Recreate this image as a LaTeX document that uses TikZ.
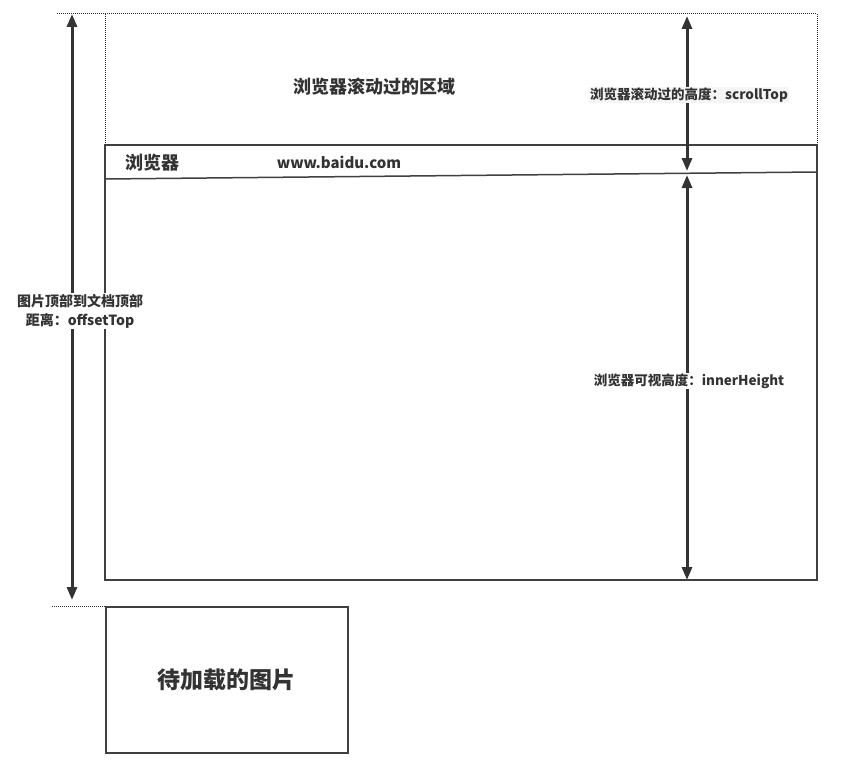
\documentclass[tikz,border=0pt]{standalone}
\usepackage{fontspec}
\setmainfont{Noto Sans CJK SC}
\usetikzlibrary{arrows.meta}
\begin{document}
\begin{tikzpicture}[x=1pt,y=-1pt,
  dot/.style={densely dotted,line width=1pt,draw=black!80},
  box/.style={draw=black!75,line width=1.5pt},
  dim/.style={line width=3pt,draw=black!80,{Triangle[length=13pt,width=10pt]}-{Triangle[length=13pt,width=10pt]}},
  lbl/.style={font=\bfseries\fontsize{13.5}{16}\selectfont,text=black!80,fill=white,inner sep=1pt},
  big/.style={font=\bfseries\fontsize{18}{20}\selectfont,text=black!80}]
\path[use as bounding box,fill=white] (0,0) rectangle (850,760);
\coordinate (tl) at (57,14); \coordinate (tr) at (817,14);
\draw[dot] (tl) -- (tr);
\draw[dot] (105,14) -- (105,145);
\draw[dot] (tr) -- (817,145);
\draw[box] (105,145) rectangle (817,580);
\coordinate (hl) at (105,179); \coordinate (hr) at (817,172);
\draw[box] (hl) -- (hr);
\coordinate (bl) at (52,606); \coordinate (br) at (105,606);
\draw[dot] (bl) -- (br);
\node[box,minimum width=242pt,minimum height=146pt,anchor=north west,inner sep=0pt] (img) at (105,606) {};
\node[font=\bfseries\fontsize{23}{26}\selectfont,text=black!80] at (img.center) {待加载的图片};
\node[big] (scroll) at (374,87) {浏览器滚动过的区域};
\node[big] (br1) at (152,163) {浏览器};
\node[font=\bfseries\fontsize{15}{17}\selectfont,text=black!80] (url) at (339,162) {www.baidu.com};
\coordinate (a1) at (72,14); \coordinate (a2) at (72,600);
\draw[dim] (a1) -- (a2);
\coordinate (s1) at (687,16); \coordinate (s2) at (687,171);
\draw[dim] (s1) -- (s2);
\coordinate (h1) at (687,175); \coordinate (h2) at (687,580);
\draw[dim] (h1) -- (h2);
\node[lbl,align=center,font=\bfseries\fontsize{14}{19}\selectfont] (off) at (80,311) {图片顶部到文档顶部\\距离：offsetTop};
\node[lbl,fill=black!4] (st) at (689,95) {浏览器滚动过的高度：scrollTop};
\node[lbl] (ih) at (689,381) {浏览器可视高度：innerHeight};
\end{tikzpicture}
\end{document}
